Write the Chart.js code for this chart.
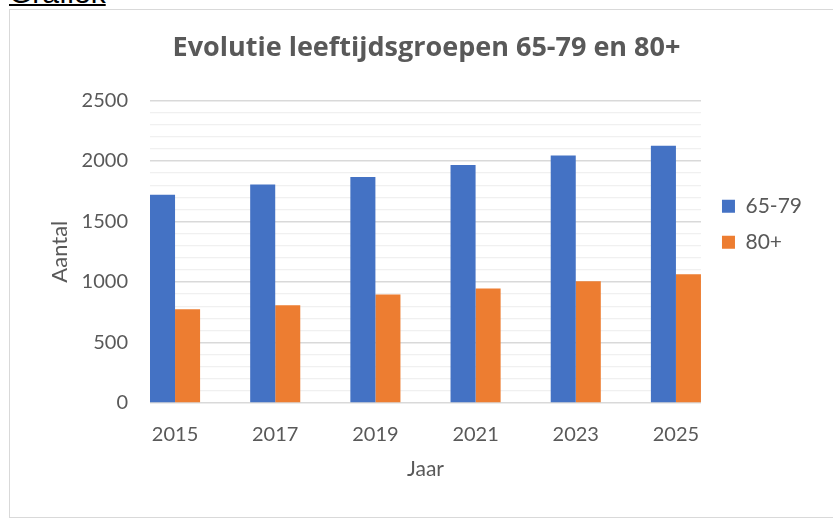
<!DOCTYPE html>
<html>
<head>
<meta charset="utf-8">
<script src="https://cdn.jsdelivr.net/npm/chart.js@4/dist/chart.umd.min.js"></script>
<style>
  html, body { margin: 0; padding: 0; width: 833px; height: 519px; overflow: hidden; background: #fff; }
  #frame { position: absolute; left: 9px; top: 9px; width: 900px; height: 509px; box-sizing: border-box; border: 1px solid #d9d9d9; }
  #head { position: absolute; left: 9px; top: -22px; font-family: 'Liberation Sans', sans-serif; font-size: 30px; line-height: 30px; color: #000; text-decoration: underline; text-decoration-thickness: 2px; text-underline-offset: 1px; }
  #c { position: absolute; left: 10px; top: 10px; }
</style>
</head>
<body>
<div id="frame"></div>
<div id="head">Grafiek</div>
<canvas id="c" width="833" height="509"></canvas>
<script>
const years = [2015, 2017, 2019, 2021, 2023, 2025];
const age6579 = [1720, 1805, 1868, 1967, 2044, 2126];
const age80plus = [775, 808, 896, 945, 1005, 1063];
const seriesNames = ['65-79', '80+'];
const chartTitle = 'Evolutie leeftijdsgroepen 65-79 en 80+';
const xTitle = 'Jaar';
const yTitle = 'Aantal';

const FONT = 'Lato';
const TXT = '#595959';

const ctx = document.getElementById('c').getContext('2d');
new Chart(ctx, {
  type: 'bar',
  data: {
    datasets: [
      { label: seriesNames[0], data: years.map((y, i) => ({ x: y, y: age6579[i] })), backgroundColor: '#4472C4', borderWidth: 0, categoryPercentage: 0.5, barPercentage: 1.0 },
      { label: seriesNames[1], data: years.map((y, i) => ({ x: y, y: age80plus[i] })), backgroundColor: '#ED7D31', borderWidth: 0, categoryPercentage: 0.5, barPercentage: 1.0 }
    ]
  },
  options: {
    responsive: false,
    animation: false,
    devicePixelRatio: 1,
    layout: { padding: { left: 31, right: 31, top: 0, bottom: 37 } },
    plugins: {
      tooltip: { enabled: false },
      title: {
        display: true, text: chartTitle, color: TXT,
        font: { family: 'Open Sans', size: 27, weight: 'bold' },
        padding: { top: 22, bottom: 36 }
      },
      legend: {
        display: true, position: 'right', align: 'start', fullSize: false,
        title: { display: true, text: ' ', font: { size: 12 }, padding: { top: 66, bottom: 0 } },
        labels: { boxWidth: 13, boxHeight: 13, padding: 15, color: TXT, font: { family: FONT, size: 21 } }
      }
    },
    scales: {
      x: {
        type: 'linear', min: 2014.5, max: 2025.5, offset: false,
        afterBuildTicks: (s) => { s.ticks = years.map(v => ({ value: v })); },
        afterFit: (s) => { s.height = 79; },
        ticks: { color: TXT, font: { family: FONT, size: 20 }, padding: 20, autoSkip: false, maxRotation: 0, callback: (v) => String(v) },
        grid: { display: false, drawTicks: false },
        border: { display: false },
        title: { display: true, text: xTitle, color: TXT, font: { family: FONT, size: 21 }, padding: { top: 0, bottom: 0 } }
      },
      y: {
        min: 0, max: 2500,
        afterFit: (s) => { s.width = 109; },
        ticks: { stepSize: 100, autoSkip: false, color: TXT, font: { family: FONT, size: 20 }, padding: 22,
          callback: (v) => (v % 500 === 0 ? String(v) : '') },
        grid: { drawTicks: false,
          color: (c) => (c.tick && c.tick.value % 500 === 0 ? '#d9d9d9' : '#f0f0f0'),
          lineWidth: (c) => (c.tick && c.tick.value % 500 === 0 ? 1.5 : 1.2) },
        border: { display: false },
        title: { display: true, text: yTitle, color: TXT, font: { family: FONT, size: 22 }, padding: { top: 6, bottom: 0 } }
      },
      gap: {
        type: 'linear', position: 'right', display: true,
        afterFit: (s) => { s.width = 6; },
        ticks: { display: false }, grid: { display: false }, border: { display: false }
      }
    }
  }
});
</script>
</body>
</html>
